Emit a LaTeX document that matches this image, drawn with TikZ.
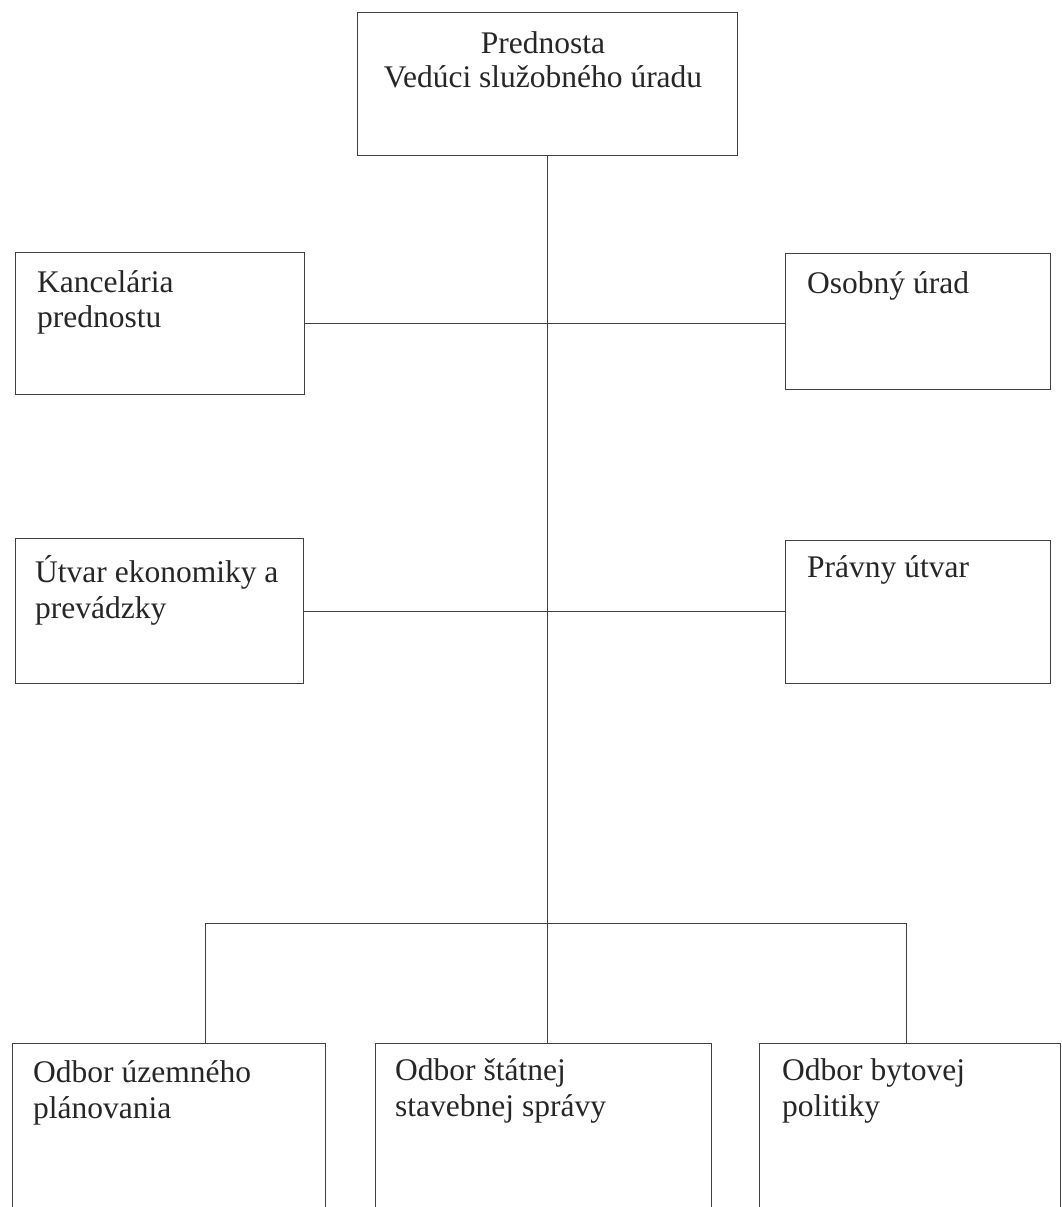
\documentclass[tikz,border=0pt]{standalone}
\usepackage{fontspec}
\setmainfont{Liberation Serif}
\begin{document}
\begin{tikzpicture}[x=1pt,y=-1pt,
  box/.style={draw=black!75, line width=0.9pt, rectangle, inner sep=0pt, anchor=north west},
  txt/.style={anchor=base west, inner sep=0pt, text=black!85, font=\fontsize{31.5}{36}\selectfont},
  ctxt/.style={txt, anchor=base},
  conn/.style={draw=black!75, line width=0.9pt}]
\useasboundingbox (0,0) rectangle (1062,1207);
\clip (0,0) rectangle (1062,1207);
% boxes
\node[box, minimum width=380, minimum height=143] (top) at (357,12) {};
\node[box, minimum width=289, minimum height=142] (kanc) at (15,252) {};
\node[box, minimum width=265, minimum height=136] (osob) at (785,253) {};
\node[box, minimum width=288, minimum height=145] (utv) at (15,538) {};
\node[box, minimum width=265, minimum height=143] (prav) at (785,540) {};
\node[box, minimum width=313, minimum height=220] (o1) at (12,1043) {};
\node[box, minimum width=336, minimum height=220] (o2) at (375,1043) {};
\node[box, minimum width=301, minimum height=220] (o3) at (759,1043) {};
% texts
\node[ctxt] (t1) at (543,53) {Prednosta};
\node[ctxt] (t2) at (543,87) {Vedúci služobného úradu};
\node[txt] (k1) at (37,292) {Kancelária};
\node[txt] (k2) at (37,327) {prednostu};
\node[txt] (os1) at (807,293) {Osobný úrad};
\node[txt] (u1) at (35,582) {Útvar ekonomiky a};
\node[txt] (u2) at (35,618) {prevádzky};
\node[txt] (p1) at (807,577) {Právny útvar};
\node[txt] (a1) at (33,1082) {Odbor územného};
\node[txt] (a2) at (33,1118) {plánovania};
\node[txt] (b1t) at (395,1080) {Odbor štátnej};
\node[txt] (b2t) at (395,1116) {stavebnej správy};
\node[txt] (c1) at (782,1080) {Odbor bytovej};
\node[txt] (c2) at (782,1116) {politiky};
% connectors
\draw[conn] (top.south) -- (top.south |- o2.north);
\draw[conn] (kanc.east) -- (kanc.east -| osob.west);
\draw[conn] (utv.east) -- (utv.east -| prav.west);
\coordinate (bl) at (205,923);
\coordinate (br) at (906,923);
\draw[conn] (bl) -- (br);
\draw[conn] (bl) -- (bl |- o1.north);
\draw[conn] (br) -- (br |- o3.north);
\end{tikzpicture}
\end{document}
